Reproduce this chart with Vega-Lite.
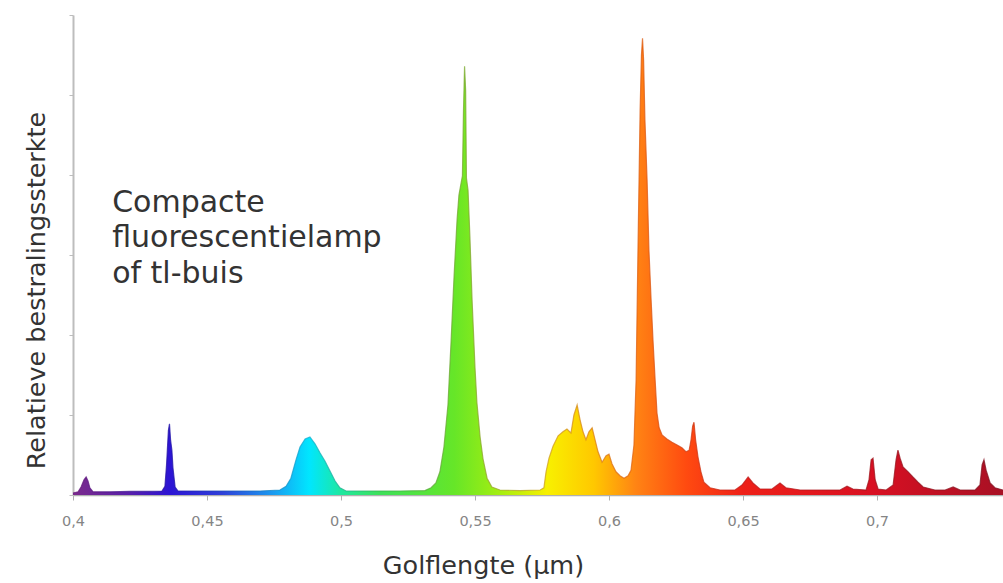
{
  "$schema": "https://vega.github.io/schema/vega-lite/v6.json",
  "width": 930,
  "height": 480,
  "autosize": {"type": "none"},
  "padding": {"left": 73, "top": 15, "right": 0, "bottom": 88},
  "background": "white",
  "config": {"view": {"stroke": null}, "font": "DejaVu Sans"},
  "datasets": {
    "spectrum": [
      {"wl": 0.4000, "v": 0.025}, {"wl": 0.4019, "v": 0.04}, {"wl": 0.4030, "v": 0.10}, {"wl": 0.4041, "v": 0.19},
      {"wl": 0.4049, "v": 0.225}, {"wl": 0.4056, "v": 0.175}, {"wl": 0.4063, "v": 0.09}, {"wl": 0.4075, "v": 0.04},
      {"wl": 0.4138, "v": 0.04}, {"wl": 0.4213, "v": 0.045}, {"wl": 0.4287, "v": 0.045}, {"wl": 0.4332, "v": 0.05},
      {"wl": 0.4343, "v": 0.11}, {"wl": 0.4349, "v": 0.375}, {"wl": 0.4353, "v": 0.625}, {"wl": 0.4356, "v": 0.81},
      {"wl": 0.4360, "v": 0.89}, {"wl": 0.4364, "v": 0.69}, {"wl": 0.4369, "v": 0.56}, {"wl": 0.4373, "v": 0.34},
      {"wl": 0.4381, "v": 0.10}, {"wl": 0.4392, "v": 0.05}, {"wl": 0.4474, "v": 0.05}, {"wl": 0.4586, "v": 0.05},
      {"wl": 0.4698, "v": 0.05}, {"wl": 0.4772, "v": 0.0625}, {"wl": 0.4795, "v": 0.11}, {"wl": 0.4813, "v": 0.21},
      {"wl": 0.4832, "v": 0.44}, {"wl": 0.4847, "v": 0.60}, {"wl": 0.4866, "v": 0.70}, {"wl": 0.4884, "v": 0.725},
      {"wl": 0.4903, "v": 0.64}, {"wl": 0.4922, "v": 0.525}, {"wl": 0.4940, "v": 0.425}, {"wl": 0.4959, "v": 0.30},
      {"wl": 0.4978, "v": 0.175}, {"wl": 0.4996, "v": 0.09}, {"wl": 0.5019, "v": 0.05}, {"wl": 0.5108, "v": 0.05},
      {"wl": 0.5220, "v": 0.05}, {"wl": 0.5313, "v": 0.055}, {"wl": 0.5336, "v": 0.09}, {"wl": 0.5354, "v": 0.15},
      {"wl": 0.5369, "v": 0.29}, {"wl": 0.5384, "v": 0.60}, {"wl": 0.5399, "v": 1.125}, {"wl": 0.5410, "v": 1.875},
      {"wl": 0.5422, "v": 2.75}, {"wl": 0.5433, "v": 3.44}, {"wl": 0.5440, "v": 3.75}, {"wl": 0.5448, "v": 3.90},
      {"wl": 0.5453, "v": 3.99}, {"wl": 0.5457, "v": 4.81}, {"wl": 0.5461, "v": 5.36}, {"wl": 0.5465, "v": 5.06},
      {"wl": 0.5468, "v": 3.96}, {"wl": 0.5474, "v": 3.81}, {"wl": 0.5481, "v": 3.225}, {"wl": 0.5489, "v": 2.44},
      {"wl": 0.5500, "v": 1.59}, {"wl": 0.5507, "v": 1.16}, {"wl": 0.5519, "v": 0.725}, {"wl": 0.5530, "v": 0.45},
      {"wl": 0.5545, "v": 0.21}, {"wl": 0.5563, "v": 0.10}, {"wl": 0.5593, "v": 0.0625}, {"wl": 0.5668, "v": 0.055},
      {"wl": 0.5743, "v": 0.0625}, {"wl": 0.5757, "v": 0.09}, {"wl": 0.5765, "v": 0.29}, {"wl": 0.5776, "v": 0.46},
      {"wl": 0.5791, "v": 0.61}, {"wl": 0.5810, "v": 0.74}, {"wl": 0.5828, "v": 0.79}, {"wl": 0.5843, "v": 0.825},
      {"wl": 0.5858, "v": 0.775}, {"wl": 0.5869, "v": 1.0}, {"wl": 0.5881, "v": 1.125}, {"wl": 0.5892, "v": 0.94},
      {"wl": 0.5903, "v": 0.79}, {"wl": 0.5914, "v": 0.69}, {"wl": 0.5925, "v": 0.79}, {"wl": 0.5937, "v": 0.84},
      {"wl": 0.5948, "v": 0.69}, {"wl": 0.5959, "v": 0.54}, {"wl": 0.5974, "v": 0.41}, {"wl": 0.5989, "v": 0.49},
      {"wl": 0.6000, "v": 0.51}, {"wl": 0.6011, "v": 0.39}, {"wl": 0.6026, "v": 0.29}, {"wl": 0.6041, "v": 0.24},
      {"wl": 0.6056, "v": 0.21}, {"wl": 0.6071, "v": 0.24}, {"wl": 0.6082, "v": 0.31}, {"wl": 0.6093, "v": 0.625},
      {"wl": 0.6101, "v": 1.44}, {"wl": 0.6108, "v": 3.06}, {"wl": 0.6116, "v": 4.81}, {"wl": 0.6121, "v": 5.50},
      {"wl": 0.6125, "v": 5.71}, {"wl": 0.6129, "v": 5.44}, {"wl": 0.6134, "v": 4.69}, {"wl": 0.6142, "v": 3.94},
      {"wl": 0.6149, "v": 3.06}, {"wl": 0.6157, "v": 2.44}, {"wl": 0.6164, "v": 1.94}, {"wl": 0.6172, "v": 1.44},
      {"wl": 0.6179, "v": 1.025}, {"wl": 0.6187, "v": 0.84}, {"wl": 0.6198, "v": 0.75}, {"wl": 0.6216, "v": 0.70},
      {"wl": 0.6235, "v": 0.66}, {"wl": 0.6254, "v": 0.625}, {"wl": 0.6272, "v": 0.59}, {"wl": 0.6287, "v": 0.54},
      {"wl": 0.6299, "v": 0.56}, {"wl": 0.6306, "v": 0.69}, {"wl": 0.6312, "v": 0.86}, {"wl": 0.6317, "v": 0.91},
      {"wl": 0.6323, "v": 0.69}, {"wl": 0.6332, "v": 0.475}, {"wl": 0.6343, "v": 0.29}, {"wl": 0.6354, "v": 0.16},
      {"wl": 0.6377, "v": 0.09}, {"wl": 0.6414, "v": 0.0625}, {"wl": 0.6470, "v": 0.0625}, {"wl": 0.6496, "v": 0.125},
      {"wl": 0.6519, "v": 0.225}, {"wl": 0.6537, "v": 0.15}, {"wl": 0.6563, "v": 0.075}, {"wl": 0.6608, "v": 0.075},
      {"wl": 0.6638, "v": 0.15}, {"wl": 0.6660, "v": 0.09}, {"wl": 0.6713, "v": 0.0625}, {"wl": 0.6862, "v": 0.0625},
      {"wl": 0.6888, "v": 0.11}, {"wl": 0.6910, "v": 0.075}, {"wl": 0.6959, "v": 0.0625}, {"wl": 0.6970, "v": 0.19},
      {"wl": 0.6978, "v": 0.44}, {"wl": 0.6985, "v": 0.46}, {"wl": 0.6993, "v": 0.19}, {"wl": 0.7004, "v": 0.075},
      {"wl": 0.7034, "v": 0.0625}, {"wl": 0.7060, "v": 0.125}, {"wl": 0.7071, "v": 0.44}, {"wl": 0.7078, "v": 0.56},
      {"wl": 0.7086, "v": 0.46}, {"wl": 0.7097, "v": 0.35}, {"wl": 0.7116, "v": 0.29}, {"wl": 0.7134, "v": 0.225},
      {"wl": 0.7153, "v": 0.16}, {"wl": 0.7172, "v": 0.10}, {"wl": 0.7216, "v": 0.0625}, {"wl": 0.7254, "v": 0.0625},
      {"wl": 0.7284, "v": 0.10}, {"wl": 0.7310, "v": 0.0625}, {"wl": 0.7366, "v": 0.0625}, {"wl": 0.7384, "v": 0.125},
      {"wl": 0.7392, "v": 0.375}, {"wl": 0.7399, "v": 0.44}, {"wl": 0.7407, "v": 0.31}, {"wl": 0.7422, "v": 0.15},
      {"wl": 0.7440, "v": 0.09}, {"wl": 0.7470, "v": 0.0625}
    ],
    "note": [
      {"wl": 0.4146, "v": 3.54, "label": "Compacte\nfluorescentielamp\nof tl-buis"}
    ]
  },
  "encoding": {
    "x": {
      "field": "wl",
      "type": "quantitative",
      "scale": {"domain": [0.4, 0.747], "nice": false, "zero": false},
      "axis": {
        "title": "Golflengte (µm)",
        "values": [0.4, 0.45, 0.5, 0.55, 0.6, 0.65, 0.7],
        "labelExpr": "replace(format(datum.value, '.2~f'), '.', ',')",
        "grid": false,
        "domainColor": "#b0b0b0",
        "domainWidth": 1.5,
        "tickColor": "#b0b0b0",
        "tickSize": 5,
        "labelColor": "#858585",
        "labelFontSize": 14.5,
        "labelPadding": 14,
        "labelFlush": false,
        "titleColor": "#333333",
        "titleFontSize": 25.5,
        "titleFontWeight": "normal",
        "titlePadding": 26,
        "titleX": 410
      }
    },
    "y": {
      "field": "v",
      "type": "quantitative",
      "scale": {"domain": [0, 6], "nice": false},
      "axis": {
        "title": "Relatieve bestralingssterkte",
        "values": [0, 1, 2, 3, 4, 5, 6],
        "labels": false,
        "grid": false,
        "domainColor": "#bdbdbd",
        "domainWidth": 2,
        "tickColor": "#bdbdbd",
        "tickSize": 4,
        "titleColor": "#333333",
        "titleFontSize": 25.5,
        "titleFontWeight": "normal",
        "titlePadding": 19,
        "titleY": 275
      }
    }
  },
  "layer": [
    {
      "data": {"name": "spectrum"},
      "mark": {
        "type": "area",
        "interpolate": "linear",
        "fill": {
          "gradient": "linear", "x1": 0, "x2": 1, "y1": 0, "y2": 0,
          "stops": [
            {"offset": 0, "color": "#7a2a8c"},
            {"offset": 0.058, "color": "#5a20a8"},
            {"offset": 0.104, "color": "#2c14d4"},
            {"offset": 0.16, "color": "#2f3fd8"},
            {"offset": 0.216, "color": "#1a9cf0"},
            {"offset": 0.254, "color": "#00e6ff"},
            {"offset": 0.288, "color": "#1ee8a0"},
            {"offset": 0.33, "color": "#3ee05a"},
            {"offset": 0.41, "color": "#66e628"},
            {"offset": 0.46, "color": "#a6ee10"},
            {"offset": 0.51, "color": "#f8f000"},
            {"offset": 0.56, "color": "#ffc800"},
            {"offset": 0.605, "color": "#ff8414"},
            {"offset": 0.66, "color": "#ff4a10"},
            {"offset": 0.72, "color": "#ee2018"},
            {"offset": 0.86, "color": "#d81022"},
            {"offset": 1, "color": "#a81024"}
          ]
        }
      }
    },
    {
      "data": {"name": "spectrum"},
      "mark": {
        "type": "line",
        "interpolate": "linear",
        "strokeWidth": 1.2,
        "opacity": 0.75,
        "stroke": {
          "gradient": "linear", "x1": 0, "x2": 1, "y1": 0, "y2": 0,
          "stops": [
            {"offset": 0, "color": "#6a1a7a"},
            {"offset": 0.104, "color": "#2010a8"},
            {"offset": 0.254, "color": "#10b0d0"},
            {"offset": 0.33, "color": "#30b048"},
            {"offset": 0.41, "color": "#70a830"},
            {"offset": 0.51, "color": "#d0a020"},
            {"offset": 0.605, "color": "#e06010"},
            {"offset": 0.72, "color": "#c01818"},
            {"offset": 1, "color": "#801020"}
          ]
        }
      }
    },
    {
      "data": {"name": "note"},
      "mark": {
        "type": "text",
        "align": "left",
        "baseline": "alphabetic",
        "lineBreak": "\n",
        "fontSize": 30,
        "lineHeight": 35.5,
        "color": "#333333",
        "font": "DejaVu Sans"
      },
      "encoding": {
        "text": {"field": "label", "type": "nominal"}
      }
    }
  ]
}
